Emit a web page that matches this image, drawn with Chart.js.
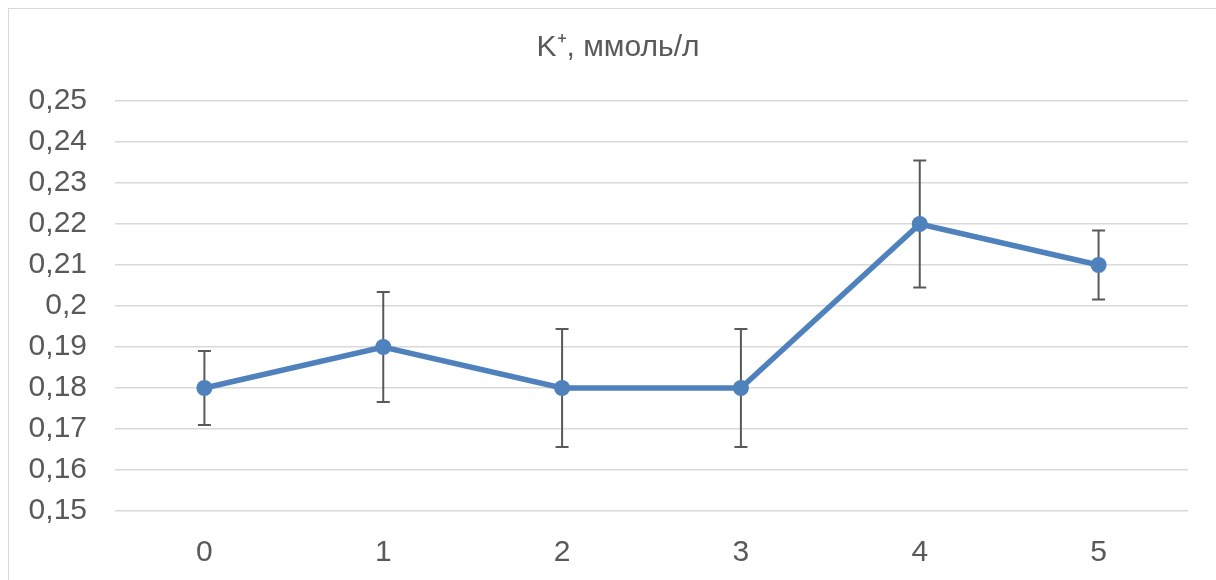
<!DOCTYPE html>
<html>
<head>
<meta charset="utf-8">
<script src="https://cdn.jsdelivr.net/npm/chart.js@4/dist/chart.umd.min.js"></script>
<style>
  html, body { margin: 0; padding: 0; background: #fff; }
  #wrap { position: relative; width: 1216px; height: 580px; overflow: hidden; }
  #box { position: absolute; left: 0; top: 0; width: 1236px; height: 580px; }
  #frame { position: absolute; left: 8px; top: 8px; width: 1240px; height: 600px;
           border: 1.5px solid #d9d9d9; box-sizing: border-box; pointer-events: none; }
</style>
</head>
<body>
<div id="wrap">
  <div id="box"><canvas id="chart"></canvas></div>
  <div id="frame"></div>
</div>
<script>
// ── DATA ─────────────────────────────────────────────
const titleText = 'K\u207A, ммоль/л';
const days      = ['0', '1', '2', '3', '4', '5'];
const potassium = [0.18, 0.19, 0.18, 0.18, 0.22, 0.21];
const errors    = [0.009, 0.0134, 0.0144, 0.0144, 0.0155, 0.0084];

const TEXT = '#595959';
const FONT = "'Liberation Sans', Arial, sans-serif";

// error bars, drawn under the line & markers
const errorBars = {
  id: 'errorBars',
  beforeDatasetsDraw(chart) {
    const { ctx, scales: { x, y } } = chart;
    ctx.save();
    ctx.strokeStyle = '#595959';
    ctx.lineWidth = 2;
    potassium.forEach((v, i) => {
      const px = x.getPixelForValue(i);
      const top = y.getPixelForValue(v + errors[i]);
      const bot = y.getPixelForValue(v - errors[i]);
      ctx.beginPath();
      ctx.moveTo(px, top); ctx.lineTo(px, bot);
      ctx.moveTo(px - 6.5, top); ctx.lineTo(px + 6.5, top);
      ctx.moveTo(px - 6.5, bot); ctx.lineTo(px + 6.5, bot);
      ctx.stroke();
    });
    ctx.restore();
  }
};

new Chart(document.getElementById('chart'), {
  type: 'line',
  data: {
    labels: days,
    datasets: [{
      data: potassium,
      borderColor: '#4f81bd',
      backgroundColor: '#4f81bd',
      borderWidth: 5.5,
      pointRadius: 8,
      pointHoverRadius: 8,
      pointBorderWidth: 0,
      tension: 0
    }]
  },
  options: {
    responsive: true,
    maintainAspectRatio: false,
    animation: false,
    layout: { padding: 0 },
    plugins: {
      legend: { display: false },
      tooltip: { enabled: false },
      title: {
        display: true,
        text: titleText,
        color: TEXT,
        font: { family: FONT, size: 30, weight: 'normal' },
        padding: { top: 30, bottom: 35 }
      }
    },
    scales: {
      x: {
        offset: true,
        grid: { display: false, drawTicks: false },
        border: { display: false },
        ticks: { color: TEXT, font: { family: FONT, size: 30 }, padding: 24 },
        afterFit: s => { s.height = 69; }
      },
      y: {
        min: 0.15,
        max: 0.25,
        grid: { color: '#d9d9d9', lineWidth: 1.5, drawTicks: false },
        border: { display: false },
        ticks: {
          stepSize: 0.01,
          color: TEXT,
          font: { family: FONT, size: 30 },
          padding: 28,
          callback: v => String(parseFloat(v.toFixed(2))).replace('.', ',')
        },
        afterFit: s => { s.width = 115; }
      },
      // empty right-hand spacer so the title centres on the whole frame
      pad: {
        position: 'right',
        grid: { display: false, drawTicks: false },
        border: { display: false },
        ticks: { display: false },
        afterFit: s => { s.width = 48; }
      }
    }
  },
  plugins: [errorBars]
});
</script>
</body>
</html>
